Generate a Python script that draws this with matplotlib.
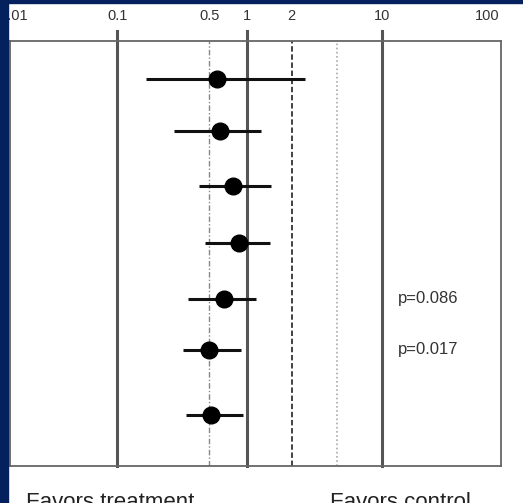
import numpy as np
import matplotlib
matplotlib.use("Agg")
import matplotlib.pyplot as plt
from matplotlib.patches import Rectangle

plt.rcParams["font.family"] = ["Liberation Sans", "DejaVu Sans"]

# odds ratios (point, lower, upper) for each row, top to bottom
rows = np.array([0.7, 1.64, 2.64, 3.68, 4.7, 5.62, 6.81])
point = np.array([0.58, 0.61, 0.78, 0.86, 0.66, 0.50, 0.52])
lower = np.array([0.165, 0.27, 0.42, 0.46, 0.345, 0.317, 0.331])
upper = np.array([2.54, 1.25, 1.45, 1.43, 1.15, 0.90, 0.94])

p_labels = ["p=0.086", "p=0.017"]
p_rows = [4.7, 5.62]
p_x = 14.3

tick_vals = [0.01, 0.1, 0.5, 1, 2, 10, 100]
tick_labels = ["0.01", "0.1", "0.5", "1", "2", "10", "100"]
solid_refs = [0.1, 1, 10]
dashed_refs = [0.5, 2, 4.5]

navy = "#04215e"

# the scanned axis is not evenly spaced in log, so map decades piecewise
LOG_ANCHORS = [-3, -2, -1, np.log10(0.5), 0, np.log10(2), 1, 2, 3]
PX_ANCHORS = [-89.3, 14, 117.3, 209.3, 246.7, 291.7, 381.7, 487, 592.3]


def forward(x):
    x = np.clip(np.asarray(x, dtype=float), 1e-300, None)
    return np.interp(np.log10(x), LOG_ANCHORS, PX_ANCHORS)


def inverse(u):
    return 10 ** np.interp(np.asarray(u, dtype=float), PX_ANCHORS, LOG_ANCHORS)


fig = plt.figure(figsize=(5.23, 5.03), dpi=100)
fig.patch.set_facecolor("white")
left, right, top, bottom = 9.5, 500.7, 40.7, 466
ax = fig.add_axes([left / 523, (503 - bottom) / 503,
                   (right - left) / 523, (bottom - top) / 503])

ax.set_xscale("function", functions=(forward, inverse))
ax.set_xlim(inverse(left), inverse(right))
ax.set_ylim(7.74, 0)

for v in solid_refs:
    ax.axvline(v, ymin=0, ymax=1.023, color="#555555", lw=2.2,
               clip_on=False, zorder=1)
ax.axvline(dashed_refs[0], color="#888888", lw=1,
           ls=(0, (4, 1.5, 1, 1.5)), zorder=1)
ax.axvline(dashed_refs[1], color="#333333", lw=1.3,
           ls=(0, (3, 1.5)), zorder=1)
ax.axvline(dashed_refs[2], color="#aaaaaa", lw=1.2,
           ls=(0, (1, 1.5)), zorder=1)

ax.errorbar(point, rows, xerr=[point - lower, upper - point],
            fmt="o", color="black", ms=12, elinewidth=2.2,
            ecolor="#111111", capsize=0, zorder=3)

for lab, r in zip(p_labels, p_rows):
    ax.text(p_x, r, lab, fontsize=12, color="#333333",
            ha="left", va="center")

ax.xaxis.tick_top()
ax.set_xticks(tick_vals)
ax.set_xticklabels(tick_labels)
ax.minorticks_off()
ax.tick_params(axis="x", length=0, pad=13, labelsize=10.5,
               labelcolor="#333333")
ax.set_yticks([])
for s in ax.spines.values():
    s.set_color("#666666")
    s.set_linewidth(1.3)

fig.text(26 / 523, -0.009, "Favors treatment", fontsize=16,
         color="#222222", ha="left", va="baseline")
fig.text(330 / 523, -0.009, "Favors control", fontsize=16,
         color="#222222", ha="left", va="baseline")

fig.add_artist(Rectangle((0, 0), 8 / 523, 1, transform=fig.transFigure,
                         color=navy, zorder=10))
fig.add_artist(Rectangle((0, 1 - 3 / 503), 1, 3 / 503,
                         transform=fig.transFigure, color=navy, zorder=10))

fig.savefig("out.png", dpi=100)
